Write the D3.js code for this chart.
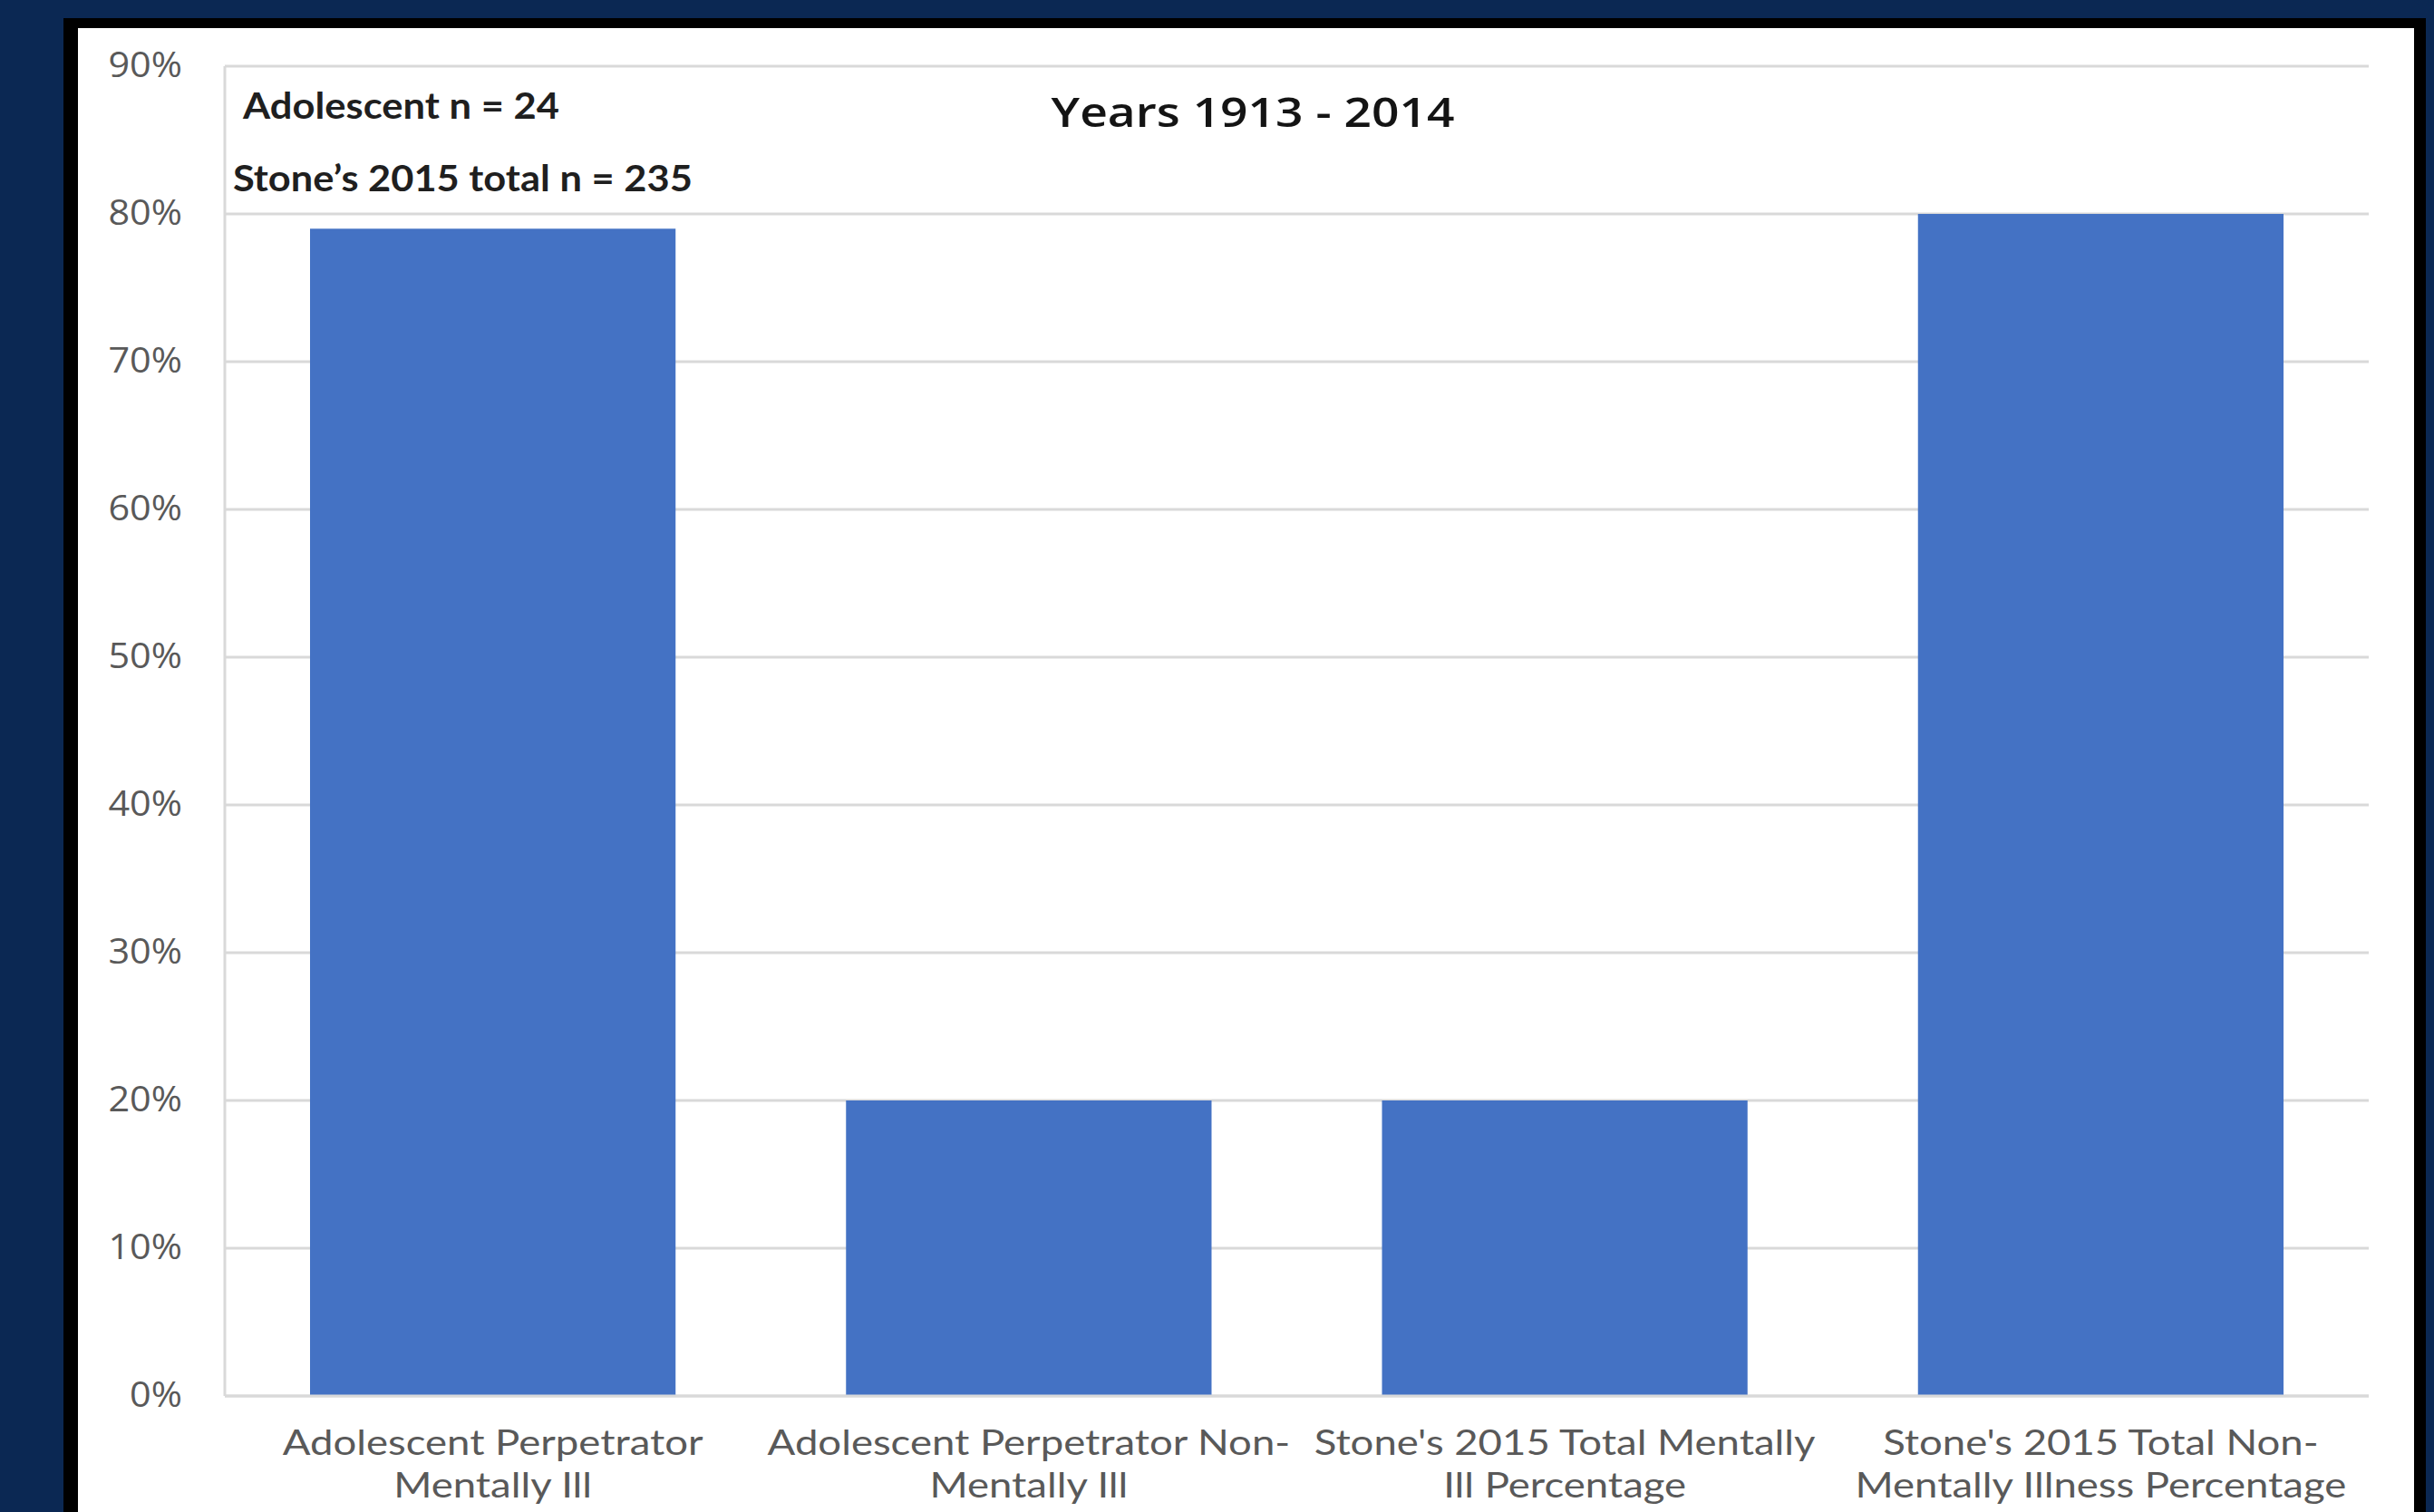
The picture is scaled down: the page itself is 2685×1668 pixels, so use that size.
<!DOCTYPE html>
<html>
<head>
<meta charset="utf-8">
<script src="https://cdn.jsdelivr.net/npm/d3@7"></script>
<style>
  html, body { margin: 0; padding: 0; background: #0b2853; }
  svg { display: block; }
</style>
</head>
<body>
<svg id="chart" width="2685" height="1668"></svg>
<script>
// ---- data ----
const categories = [
  "Adolescent Perpetrator Mentally Ill",
  "Adolescent Perpetrator Non-Mentally Ill",
  "Stone's 2015 Total Mentally Ill Percentage",
  "Stone's 2015 Total Non-Mentally Illness Percentage"
];
const categoryLines = [
  ["Adolescent Perpetrator", "Mentally Ill"],
  ["Adolescent Perpetrator Non-", "Mentally Ill"],
  ["Stone's 2015 Total Mentally", "Ill Percentage"],
  ["Stone's 2015 Total Non-", "Mentally Illness Percentage"]
];
const values = [0.79, 0.20, 0.20, 0.80];
const yTicks = [0, 0.1, 0.2, 0.3, 0.4, 0.5, 0.6, 0.7, 0.8, 0.9];
const titleText = "Years 1913 - 2014";
const notes = ["Adolescent n = 24", "Stone\u2019s 2015 total n = 235"];

// ---- layout ----
const W = 2685, H = 1668;
const svg = d3.select("#chart");

svg.append("rect").attr("x", 0).attr("y", 0).attr("width", W).attr("height", H).attr("fill", "#0b2853");
svg.append("rect").attr("x", 70).attr("y", 20).attr("width", 2606).attr("height", H - 20).attr("fill", "#000");
svg.append("rect").attr("x", 86).attr("y", 31).attr("width", 2577).attr("height", H - 31).attr("fill", "#ffffff");

const plot = { left: 248, right: 2613, top: 73, bottom: 1540 };

const x = d3.scaleBand()
  .domain(categories)
  .range([plot.left, plot.right])
  .paddingInner(0.318)
  .paddingOuter(0.159);

const y = d3.scaleLinear()
  .domain([0, 0.9])
  .range([plot.bottom, plot.top]);

function fitWidth(sel, target) {
  sel.each(function () {
    const n = this.getComputedTextLength();
    const t = d3.select(this);
    const tx = +t.attr("data-x"), ty = +t.attr("data-y");
    t.attr("transform", `translate(${tx},${ty}) scale(${target / n},1)`);
  });
}

// gridlines
svg.append("g")
  .selectAll("line")
  .data(yTicks)
  .join("line")
  .attr("x1", plot.left)
  .attr("x2", plot.right)
  .attr("y1", d => y(d))
  .attr("y2", d => y(d))
  .attr("stroke", "#d9d9d9")
  .attr("stroke-width", 3);

// left axis line
svg.append("line")
  .attr("x1", plot.left).attr("x2", plot.left)
  .attr("y1", y(0.9)).attr("y2", y(0))
  .attr("stroke", "#d9d9d9").attr("stroke-width", 3);

// bars
svg.append("g")
  .selectAll("rect")
  .data(categories.map((c, i) => ({ c, v: values[i] })))
  .join("rect")
  .attr("x", d => x(d.c))
  .attr("width", x.bandwidth())
  .attr("y", d => y(d.v))
  .attr("height", d => y(0) - y(d.v))
  .attr("fill", "#4472c4");

// baseline over bars
svg.append("line")
  .attr("x1", plot.left).attr("x2", plot.right)
  .attr("y1", y(0)).attr("y2", y(0))
  .attr("stroke", "#d9d9d9").attr("stroke-width", 3);

// y tick labels
svg.append("g")
  .selectAll("text")
  .data(yTicks)
  .join("text")
  .attr("transform", d => `translate(201,${y(d) + 12}) scale(1.09,1)`)
  .attr("text-anchor", "end")
  .attr("font-family", "'Open Sans', sans-serif")
  .attr("font-size", 38)
  .attr("fill", "#595959")
  .text(d3.format(".0%"));

// x labels (Lato, stretched horizontally to match the reference)
const xl = svg.append("g");
const xLabelNodes = [];
categories.forEach((c, i) => {
  const cx = x(c) + x.bandwidth() / 2;
  categoryLines[i].forEach((line, j) => {
    const t = xl.append("text")
      .attr("data-cx", cx)
      .attr("data-cy", 1605 + j * 47)
      .attr("text-anchor", "middle")
      .attr("font-family", "Lato, sans-serif")
      .attr("font-size", 38)
      .attr("fill", "#595959")
      .text(line);
    xLabelNodes.push(t);
  });
});
const refLen = xLabelNodes[0].node().getComputedTextLength();
const sx = 464 / refLen;
xLabelNodes.forEach(t => {
  t.attr("transform", `translate(${t.attr("data-cx")},${t.attr("data-cy")}) scale(${sx},1)`);
});

// title
svg.append("text")
  .attr("data-x", 1382).attr("data-y", 140)
  .attr("text-anchor", "middle")
  .attr("font-family", "'Open Sans', sans-serif")
  .attr("font-weight", 600)
  .attr("font-size", 45)
  .attr("fill", "#141414")
  .text(titleText)
  .call(fitWidth, 445);

// notes
const noteX = [268, 257];
const noteY = [131, 211];
const noteW = [349, 507];
notes.forEach((t, i) => {
  svg.append("text")
    .attr("data-x", noteX[i]).attr("data-y", noteY[i])
    .attr("text-anchor", "start")
    .attr("font-family", "Lato, sans-serif")
    .attr("font-weight", 700)
    .attr("font-size", 40)
    .attr("fill", "#1f1f1f")
    .text(t)
    .call(fitWidth, noteW[i]);
});
</script>
</body>
</html>
